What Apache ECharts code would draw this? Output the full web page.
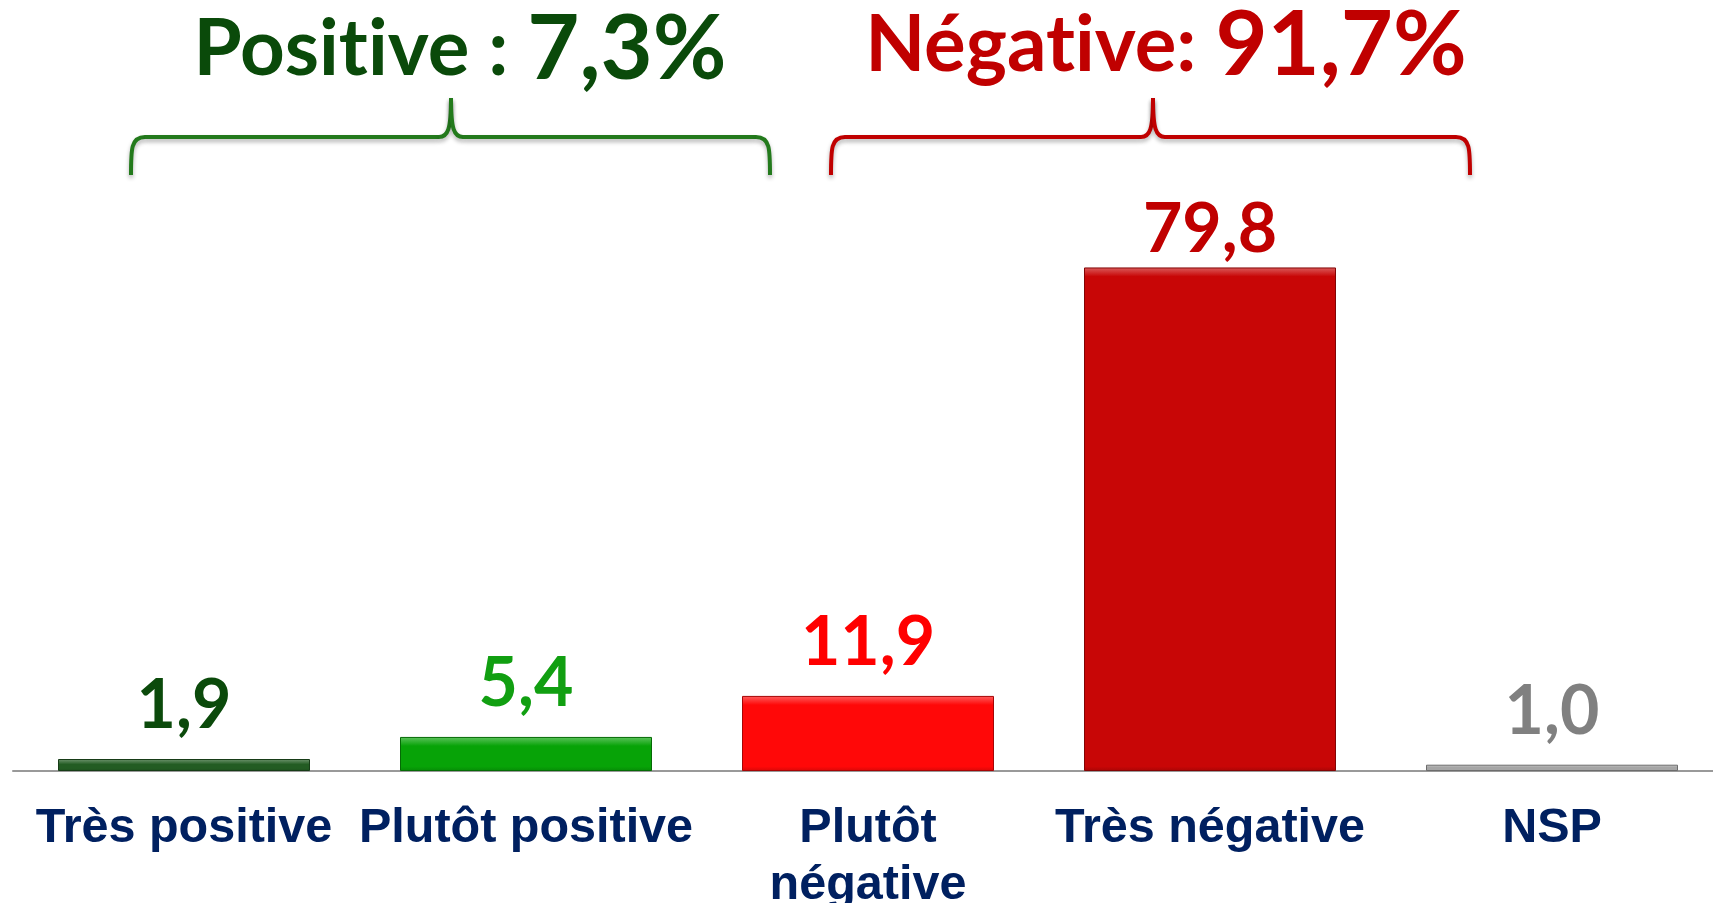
<!DOCTYPE html>
<html>
<head>
<meta charset="utf-8">
<script src="https://cdn.jsdelivr.net/npm/echarts@6/dist/echarts.min.js"></script>
<style>
  html, body { margin: 0; padding: 0; background: #fff; }
  #chart { width: 1713px; height: 903px; }
</style>
</head>
<body>
<div id="chart"></div>
<script>
const categories = ['Très positive', 'Plutôt positive', 'Plutôt\nnégative', 'Très négative', 'NSP']
const values = [1.9, 5.4, 11.9, 79.8, 1.0]
const barColors = ['#235c23', '#07a307', '#ff0808', '#c80606', '#a6a6a6']
const labelColors = ['#0b4a0b', '#119f11', '#ff0000', '#c00000', '#808080']
const groupLabels = ['Positive : ', 'Négative: ']
const groupTotals = ['7,3%', '91,7%']

const chart = echarts.init(document.getElementById('chart'))

function lift(hex, k) {
  const n = parseInt(hex.slice(1), 16)
  const c = [n >> 16, (n >> 8) & 255, n & 255].map(v =>
    Math.round(k > 0 ? v + (255 - v) * k : v * (1 + k)))
  return 'rgb(' + c.join(',') + ')'
}

// petit effet de biseau sur le haut des barres
function bevel(color, h) {
  const f = Math.min(0.45, 9 / h)
  return {
    type: 'linear', x: 0, y: 0, x2: 0, y2: 1,
    colorStops: [
      { offset: 0, color: lift(color, 0.35) },
      { offset: f, color: color },
      { offset: 1 - f / 2, color: color },
      { offset: 1, color: lift(color, -0.15) }
    ]
  }
}

const barData = values.map((v, i) => ({
  value: v,
  itemStyle: {
    color: bevel(barColors[i], v * 6.28),
    borderColor: lift(barColors[i], -0.35),
    borderWidth: 1
  },
  label: {
    color: labelColors[i],
    distance: i === 3 ? 3 : 19
  }
}))

function brace(x1, xm, x2, color) {
  const y = 137, top = 98, bot = 175
  const style = {
    fill: null,
    stroke: color,
    lineWidth: 4,
    shadowBlur: 4,
    shadowOffsetY: 3,
    shadowColor: 'rgba(0,0,0,0.3)'
  }
  const curve = (ax, ay, bx, by, c1x, c1y, c2x, c2y) => ({
    type: 'bezierCurve',
    shape: { x1: ax, y1: ay, x2: bx, y2: by, cpx1: c1x, cpy1: c1y, cpx2: c2x, cpy2: c2y },
    style: style
  })
  const line = (ax, bx) => ({
    type: 'line',
    shape: { x1: ax, y1: y, x2: bx, y2: y },
    style: style
  })
  return [
    curve(x1, bot, x1 + 14, y, x1, y + 12, x1, y),
    line(x1 + 14, xm - 12),
    curve(xm - 12, y, xm, top, xm - 3, y, xm, y - 8),
    curve(xm, top, xm + 12, y, xm, y - 8, xm + 3, y),
    line(xm + 12, x2 - 14),
    curve(x2 - 14, y, x2, bot, x2, y, x2, y + 12)
  ]
}

// \u200c : évite la ligature "ti" de Lato
function noLig(s) {
  return s.replace(/ti/g, 't\u200ci')
}

function groupTitle(x, y, i, color) {
  return {
    type: 'text',
    x: x,
    y: y,
    style: {
      text: '{a|' + noLig(groupLabels[i]) + '}{b|' + groupTotals[i] + '}',
      align: 'center',
      verticalAlign: 'top',
      fill: color,
      rich: {
        a: { fontFamily: 'Lato', fontWeight: 'bold', fontSize: 78, fill: color },
        b: { fontFamily: 'Lato', fontWeight: 'bold', fontSize: 90, fill: color }
      }
    }
  }
}

chart.setOption({
  animation: false,
  grid: {
    left: 13,
    width: 1710,
    top: 140,
    bottom: 132,
    outerBoundsMode: 'none'
  },
  xAxis: {
    type: 'category',
    data: categories,
    axisTick: { show: false },
    axisLine: { lineStyle: { color: '#999999', width: 2 } },
    axisLabel: {
      interval: 0,
      margin: 29,
      color: '#002060',
      fontFamily: 'Liberation Sans',
      fontWeight: 'bold',
      fontSize: 48.5,
      lineHeight: 57
    }
  },
  yAxis: {
    type: 'value',
    min: 0,
    max: 100,
    show: false,
    splitLine: { show: false }
  },
  series: [{
    type: 'bar',
    barWidth: 252,
    data: barData,
    label: {
      show: true,
      position: 'top',
      fontFamily: 'Lato',
      fontWeight: 'bold',
      fontSize: 68,
      formatter: p => p.value.toFixed(1).replace('.', ',')
    }
  }],
  graphic: [
    groupTitle(460, 5, 0, '#0a4a0a'),
    groupTitle(1166, 1, 1, '#c00000')
  ].concat(brace(131, 451, 770, '#237a1c'), brace(831, 1153, 1470, '#c00000'))
})
</script>
</body>
</html>
